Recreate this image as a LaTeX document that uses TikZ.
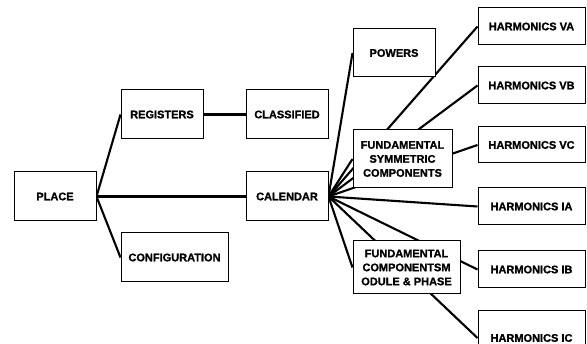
\documentclass[tikz,border=0pt]{standalone}
\usepackage{fontspec}
\setmainfont{Liberation Sans}[BoldFeatures={FakeBold=1.2}]
\usetikzlibrary{backgrounds}
\begin{document}
\begin{tikzpicture}[x=1pt,y=-1pt,
  box/.style={draw, line width=1pt, fill=white, inner sep=0pt, align=center,
    font=\bfseries\fontsize{11}{14}\selectfont},
  link/.style={line width=2.1pt}]
\useasboundingbox (0,0) rectangle (587,344);
\clip (0,0) rectangle (587,344);
\node[box, minimum width=82pt, minimum height=49pt] (place) at (55,196.5) {PLACE};
\node[box, minimum width=82pt, minimum height=49pt] (reg) at (162,114.5) {REGISTERS};
\node[box, minimum width=82pt, minimum height=49pt] (cls) at (287,114.5) {CLASSIFIED};
\node[box, minimum width=82pt, minimum height=49pt] (cal) at (287,196.5) {CALENDAR};
\node[box, minimum width=107pt, minimum height=49pt] (conf) at (174.5,257.5) {CONFIGURATION};
\node[box, minimum width=82pt, minimum height=48pt] (pow) at (394,53) {POWERS};
\node[box, minimum width=99pt, minimum height=58pt] (fsc) at (402.5,159) {FUNDAMENTAL\\SYMMETRIC\\COMPONENTS};
\node[box, minimum width=107pt, minimum height=53pt] (fcmp) at (406.5,267.5) {FUNDAMENTAL\\COMPONENTSM\\ODULE \& PHASE};
\node[box, minimum width=107pt, minimum height=37pt] (va) at (531.5,26.5) {HARMONICS VA};
\node[box, minimum width=107pt, minimum height=37pt] (vb) at (531.5,85.5) {HARMONICS VB};
\node[box, minimum width=107pt, minimum height=36pt] (vc) at (531.5,145) {HARMONICS VC};
\node[box, minimum width=107pt, minimum height=37pt] (ia) at (531.5,206.5) {HARMONICS IA};
\node[box, minimum width=107pt, minimum height=37pt] (ib) at (531.5,269.5) {HARMONICS IB};
\node[box, minimum width=107pt, minimum height=54pt] (ic) at (531.5,338) {HARMONICS IC};
\begin{pgfonlayer}{background}
\draw[link] (place.east) -- (reg.west);
\draw[link] (place.east) -- (conf.west);
\draw[link] (place.east) -- (cal.west);
\draw[link] (reg.east) -- (cls.west);
\foreach \t in {pow,fsc,fcmp,va,vb,vc,ia,ib,ic}
  \draw[link] (cal.east) -- (\t.west);
\end{pgfonlayer}
\end{tikzpicture}
\end{document}
